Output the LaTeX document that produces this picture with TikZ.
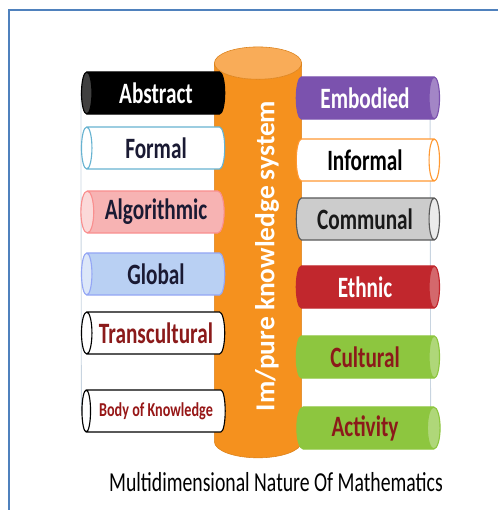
\documentclass[tikz,border=0pt]{standalone}
\usepackage{fontspec}
\setmainfont{Carlito}
\newfontfamily\barfont[FakeStretch=0.72]{Carlito}
\usetikzlibrary{shapes.geometric,backgrounds}

\definecolor{frameblue}{HTML}{4F81BD}
\definecolor{coreorange}{HTML}{F5911E}
\definecolor{coretop}{HTML}{F9AC58}
\definecolor{inkblue}{HTML}{1A1A33}
\definecolor{inkred}{HTML}{8B1A1A}
\definecolor{guide}{HTML}{C8D4E0}
\definecolor{barpurple}{HTML}{7B52AE}
\definecolor{barred}{HTML}{C1272D}
\definecolor{bargreen}{HTML}{8DC63F}
\definecolor{barblue}{HTML}{B9D0F3}
\definecolor{barpink}{HTML}{F7B3B3}

\begin{document}
\begin{tikzpicture}[x=0.025cm, y=-0.025cm,
  bar/.style = 
  	{shape=cylinder, draw, line width=0.8pt, aspect=0.5,
    minimum height=3.58cm, minimum width=1.05cm, inner sep=0pt,
    cylinder uses custom fill,
    font=\barfont\bfseries\fontsize{21}{21}\selectfont},
  leftbar/.style = {bar, shape border rotate=180},
  rightbar/.style = {bar, shape border rotate=0},
  paint/.style n args = {3}{draw=#1, cylinder body fill=#2, cylinder end fill=#3}
]
  \useasboundingbox (0,0) rectangle (498,510);

  % frame
  \draw[frameblue, line width=1.4pt] (9,510) -- (9,10) -- (498,10);

  % central column
  \node[shape=cylinder, shape border rotate=90, inner sep=5pt, aspect=2.3,
    draw=coreorange!90!black,
    cylinder uses custom fill, cylinder body fill=coreorange,
    cylinder end fill=coretop, minimum height=10.27cm, minimum width=2.18cm]
    (core) at (258,265) {};
  \node[rotate=90, white, font=\bfseries\fontsize{19.5}{19.5}\selectfont]
    (corelabel) at (267,256) {Im/pure knowledge system};

  % left bars
  \node[leftbar, paint={black}{black}{black!75}, text=white]
    (abstract) at (156,93) {Abstract};
  \node[leftbar, paint={cyan!50!teal!70}{white}{white}, text=inkblue]
    (formal) at (156,148) {Formal};
  \node[leftbar, paint={barpink!80!red}{barpink}{barpink!50}, text=inkblue]
    (algorithmic) at (156,212) {Algorithmic};
  \node[leftbar, paint={barblue!80!blue}{barblue}{barblue!50}, text=inkblue]
    (global) at (156,274) {Global};
  \node[leftbar, paint={black}{white}{white}, text=inkred]
    (transcultural) at (156,333) {Transcultural};
  \node[leftbar, paint={black}{white}{white}, text=inkred!90!red,
    font=\barfont\bfseries\fontsize{14}{14}\selectfont]
    (knowledge) at (156,411) {Body of Knowledge};

  % right bars
  \node[rightbar, paint={barpurple}{barpurple}{barpurple!70}, text=white]
    (embodied) at (365,98) {Embodied};
  \node[rightbar, paint={orange!80}{white}{white}, text=black]
    (informal) at (365,160) {Informal};
  \node[rightbar, paint={black!65}{black!20}{black!8}, text=black!90]
    (communal) at (365,219) {Communal};
  \node[rightbar, paint={barred}{barred}{barred!70}, text=white]
    (ethnic) at (365,287) {Ethnic};
  \node[rightbar, paint={bargreen}{bargreen}{bargreen!70}, text=inkred]
    (cultural) at (365,357) {Cultural};
  \node[rightbar, paint={bargreen}{bargreen}{bargreen!70}, text=inkred]
    (activity) at (365,428) {Activity};

  % guide lines behind the bars
  \begin{pgfonlayer}{background}
    \draw[guide, line width=0.6pt] (abstract.west) -- (knowledge.west);
    \draw[guide, line width=0.6pt] ([xshift=-0.25cm]embodied.east)
      -- ([xshift=-0.25cm]activity.east);
  \end{pgfonlayer}

  \node[font=\barfont\fontsize{19.5}{19.5}\selectfont] (title) at (276,482)
    {Multidimensional Nature Of Mathematics};

\end{tikzpicture}
\end{document}
